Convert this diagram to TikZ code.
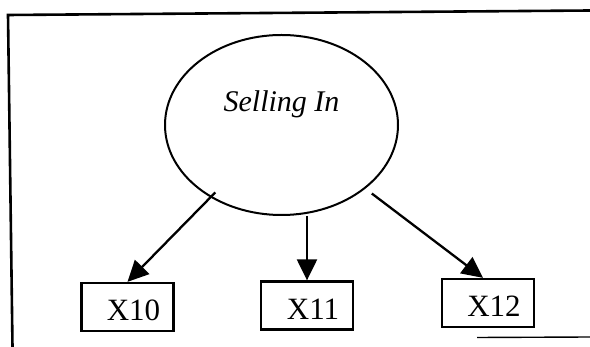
\documentclass[tikz,border=0pt]{standalone}
\usepackage{fontspec}
\setmainfont{Liberation Serif}
\usetikzlibrary{shapes.geometric,arrows.meta}
\begin{document}
\begin{tikzpicture}[x=1pt,y=-1pt,
  framestyle/.style={line width=2.6pt,black},
  latent/.style={ellipse,draw,line width=2pt,inner sep=0pt,minimum width=233pt,minimum height=180pt,
    font=\fontsize{30}{36}\selectfont\itshape,text height=20pt,text depth=46pt},
  obs/.style={rectangle,draw,line width=2.3pt,inner sep=0pt,minimum width=92pt,minimum height=48pt,
    font=\fontsize{31}{36}\selectfont,text height=28pt,text depth=0pt},
  arr/.style={line width=2.3pt,-{Triangle[length=21pt,width=20pt]}}]
\useasboundingbox (0,0) rectangle (590,347);
% frame
\coordinate (ftl) at (8,15);
\coordinate (ftr) at (590,10.5);
\coordinate (fbl) at (12.5,347);
\coordinate (fbr1) at (477,337.5);
\coordinate (fbr2) at (590,337);
\draw[framestyle] (ftr) -- (ftl) -- (fbl);
\draw[line width=1.4pt] (fbr1) -- (fbr2);
% nodes
\node[latent] (sell) at (281.5,125) {Selling In};
\node[obs] (b10) at (127.5,307) {\hspace*{12pt}X10};
\node[obs] (b11) at (307,305.5) {\hspace*{12pt}X11};
\node[obs] (b12) at (488,303) {\hspace*{12pt}X12};
% arrows
\draw[arr,shorten <=-7pt] (sell) -- (b10.north);
\draw[arr] (sell.south -| b11.north) -- (b11.north);
\draw[arr,shorten <=8pt] (sell) -- ([xshift=-5pt]b12.north);
\end{tikzpicture}
\end{document}
